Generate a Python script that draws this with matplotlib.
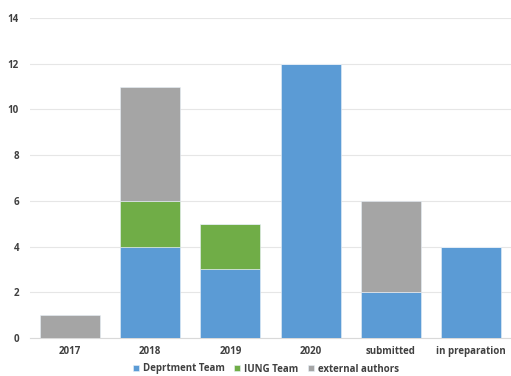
import matplotlib
matplotlib.use("Agg")
import matplotlib.pyplot as plt
import numpy as np

categories = ["2017", "2018", "2019", "2020", "submitted", "in preparation"]
department = [0, 4, 3, 12, 2, 4]
iung = [0, 2, 2, 0, 0, 0]
external = [1, 5, 0, 0, 4, 0]
labels = ["Deprtment Team", "IUNG Team", "external authors"]
colors = ["#5B9BD5", "#70AD47", "#A5A5A5"]

plt.rcParams['font.family'] = ['Open Sans', 'DejaVu Sans']
fig = plt.figure(figsize=(5.11, 3.76), dpi=100)
ax = fig.add_axes([30/511, 38/376, 481/511, 320/376])

x = np.arange(len(categories))
w = 0.75
b1 = np.array(department)
b2 = b1 + np.array(iung)
ax.bar(x, department, w, color=colors[0], label=labels[0], zorder=3, edgecolor="#E8F0F8", linewidth=0.4)
ax.bar(x, iung, w, bottom=b1, color=colors[1], label=labels[1], zorder=3, edgecolor="#E8F0F8", linewidth=0.4)
ax.bar(x, external, w, bottom=b2, color=colors[2], label=labels[2], zorder=3, edgecolor="#E8F0F8", linewidth=0.4)

ax.set_xlim(-0.5, len(categories) - 0.5)
ax.set_ylim(0, 14)
ax.set_yticks(range(0, 15, 2))
ax.set_xticks(x)
ax.set_xticklabels(categories, fontsize=7, fontweight="bold", color="#404040")
for t in ax.get_yticklabels():
    t.set_fontsize(7); t.set_fontweight("bold"); t.set_color("#404040")
ax.yaxis.grid(True, color="#E6E6E6", linewidth=0.8, zorder=0)
for s in ["top", "right", "left"]:
    ax.spines[s].set_visible(False)
ax.spines["bottom"].set_color("#D9D9D9")
ax.tick_params(axis="both", length=0, pad=6)
ax.tick_params(axis="y", pad=8)

leg = fig.legend(loc="center", bbox_to_anchor=(266/511, 1 - 369/376), ncol=3, frameon=False,
                 prop={"size": 7, "weight": "bold"}, handlelength=0.6, handleheight=0.6,
                 handletextpad=0.4, columnspacing=1.0)
for t in leg.get_texts():
    t.set_color("#404040")
fig.savefig("out.png", dpi=100)
